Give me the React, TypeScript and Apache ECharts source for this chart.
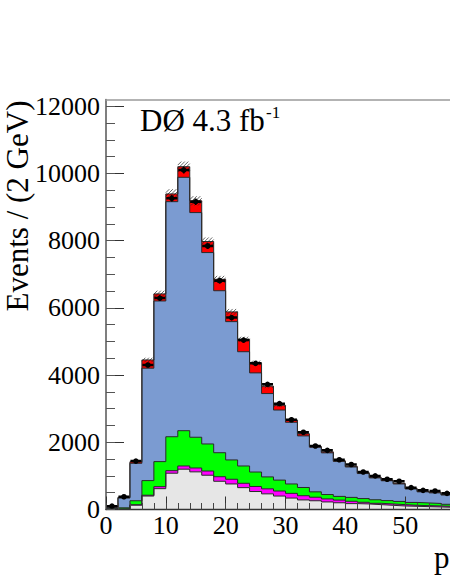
import React, { useEffect, useRef } from "react";
import * as echarts from "echarts";

// Bin lower edges (GeV), 2 GeV bins
const binLow = [0, 2, 4, 6, 8, 10, 12, 14, 16, 18, 20, 22, 24, 26, 28, 30, 32, 34, 36, 38, 40, 42, 44, 46, 48, 50, 52, 54, 56];
const BIN_WIDTH = 2;

// Stacked background components (events per bin)
const grayBg = [10, 15, 130, 400, 620, 1080, 1200, 1120, 1020, 840, 760, 650, 535, 465, 400, 340, 285, 260, 225, 200, 175, 165, 145, 125, 105, 95, 85, 75, 65];
const magentaBg = [0, 0, 10, 25, 60, 75, 95, 115, 125, 135, 140, 130, 150, 150, 150, 140, 125, 105, 90, 80, 70, 50, 40, 40, 40, 30, 30, 30, 30];
const greenBg = [10, 35, 120, 435, 745, 1010, 1050, 915, 805, 715, 575, 515, 430, 355, 325, 280, 245, 160, 130, 110, 115, 110, 105, 100, 95, 85, 80, 75, 60];
const blueSig = [50, 290, 1115, 3345, 4780, 6995, 7540, 6685, 5695, 4820, 4115, 3400, 2950, 2480, 2085, 1835, 1535, 1330, 1240, 1040, 905, 745, 650, 590, 520, 400, 330, 315, 275];
const redBg = [20, 25, 45, 245, 210, 230, 315, 350, 330, 340, 290, 370, 300, 220, 140, 70, 65, 20, 30, 20, 20, 25, 20, 20, 20, 20, 20, 20, 20];

// Data points and their errors
const dataVals = [100, 380, 1440, 4300, 6290, 9260, 10100, 9160, 7840, 6810, 5710, 5040, 4350, 3725, 3150, 2670, 2300, 1890, 1760, 1480, 1340, 1115, 1000, 900, 840, 650, 570, 550, 480];
const dataErr = [10, 19, 38, 66, 79, 96, 101, 96, 89, 83, 76, 71, 66, 61, 56, 52, 48, 43, 42, 38, 37, 33, 32, 30, 29, 25, 24, 23, 22];
const SYST = 0.015;

// Axis ticks
const xMajorTicks = [0, 10, 20, 30, 40, 50];
const yMajorTicks = [0, 2000, 4000, 6000, 8000, 10000, 12000];
const X_MAX = 57.5;
const Y_MAX = 12200;

const FONT = "Liberation Serif";

export default function App() {
  const ref = useRef<HTMLDivElement>(null);
  useEffect(() => {
    if (!ref.current) return;
    const chart = echarts.init(ref.current, undefined, { renderer: "svg" });

    const xMinorTicks: number[] = [];
    for (let v = 0; v <= 56; v += BIN_WIDTH) xMinorTicks.push(v);
    const yMinorTicks: number[] = [];
    for (let v = 0; v <= 12000; v += 500) yMinorTicks.push(v);

    const stepData = (arr: number[]) => {
      const pts = binLow.map((x, i) => [x, arr[i]]);
      pts.push([binLow[binLow.length - 1] + BIN_WIDTH, arr[arr.length - 1]]);
      return pts;
    };

    const comps = [
      { name: "gray", data: grayBg, color: "#e6e6e6" },
      { name: "magenta", data: magentaBg, color: "#ff00ff" },
      { name: "green", data: greenBg, color: "#00ff00" },
      { name: "signal", data: blueSig, color: "#7b9bd1" },
      { name: "red", data: redBg, color: "#ff0000" },
    ];

    // cumulative tops (bottom to top)
    const cum: number[][] = [];
    comps.forEach((c, k) => {
      cum.push(binLow.map((_, i) => (k > 0 ? cum[k - 1][i] : 0) + c.data[i]));
    });
    const totals = cum[cum.length - 1];

    // draw from the top layer down so lower layers cover higher ones
    const lineSeries = comps
      .map((c, k) => ({
        type: "line",
        name: c.name,
        step: "end",
        symbol: "none",
        silent: true,
        data: stepData(cum[k]),
        lineStyle: { color: "#2a2a2a", width: 1 },
        areaStyle: { color: c.color, opacity: 1, origin: "start" },
        z: 2,
      }))
      .reverse();

    const customData = binLow.map((x, i) => [x + BIN_WIDTH / 2, dataVals[i], dataErr[i], totals[i]]);

    const option: any = {
      animation: false,
      backgroundColor: "#ffffff",
      grid: { left: 106, right: 0, top: 99.5, bottom: 72.5, outerBoundsMode: "none", containLabel: false },
      xAxis: [
        {
          type: "value", min: 0, max: X_MAX, position: "bottom", z: 5,
          axisLine: { show: true, lineStyle: { color: "#333", width: 1.3 } },
          axisTick: { show: true, inside: true, length: 13, customValues: xMajorTicks, lineStyle: { color: "#333", width: 1 } },
          axisLabel: { show: true, customValues: xMajorTicks, formatter: (v: number) => String(v), fontFamily: FONT, fontSize: 26, color: "#000", margin: 3 },
          splitLine: { show: false },
        },
        {
          type: "value", min: 0, max: X_MAX, position: "bottom", z: 5,
          axisLine: { show: false },
          axisTick: { show: true, inside: true, length: 6.5, customValues: xMinorTicks, lineStyle: { color: "#444", width: 1 } },
          axisLabel: { show: false },
          splitLine: { show: false },
        },
        {
          type: "value", min: 0, max: X_MAX, position: "top", z: 5,
          axisLine: { show: true, lineStyle: { color: "#9a9a9a", width: 1.5 } },
          axisTick: { show: false },
          axisLabel: { show: false },
          splitLine: { show: false },
        },
      ],
      yAxis: [
        {
          type: "value", min: 0, max: Y_MAX, position: "left", z: 5,
          axisLine: { show: true, lineStyle: { color: "#555", width: 1.5 } },
          axisTick: { show: true, inside: true, length: 18, customValues: yMajorTicks, lineStyle: { color: "#333", width: 1 } },
          axisLabel: { show: true, customValues: yMajorTicks, formatter: (v: number) => String(v), fontFamily: FONT, fontSize: 26, color: "#000", margin: 6 },
          splitLine: { show: false },
        },
        {
          type: "value", min: 0, max: Y_MAX, position: "left", z: 5,
          axisLine: { show: false },
          axisTick: { show: true, inside: true, length: 9, customValues: yMinorTicks, lineStyle: { color: "#555", width: 1 } },
          axisLabel: { show: false },
          splitLine: { show: false },
        },
      ],
      series: [
        ...lineSeries,
        {
          type: "custom",
          name: "data",
          silent: true,
          clip: true,
          z: 3,
          encode: { x: 0, y: 1 },
          data: customData,
          renderItem: (params: any, api: any) => {
            const xc = api.value(0) as number;
            const v = api.value(1) as number;
            const e = api.value(2) as number;
            const tot = api.value(3) as number;
            const pL = api.coord([xc - BIN_WIDTH / 2, v]);
            const pR = api.coord([xc + BIN_WIDTH / 2, v]);
            const pM = api.coord([xc, v]);
            const xa = pL[0];
            const xb = pR[0];
            const yHi = api.coord([xc, tot * (1 + SYST)])[1];
            const yLo = api.coord([xc, tot * (1 - SYST)])[1];
            const children: any[] = [];
            if (yLo - yHi > 1) {
              for (let c = xa + yHi; c <= xb + yLo; c += 3.5) {
                const x1 = Math.max(xa, c - yLo);
                const x2 = Math.min(xb, c - yHi);
                if (x2 > x1) {
                  children.push({ type: "line", shape: { x1, y1: c - x1, x2, y2: c - x2 }, style: { stroke: "#222", lineWidth: 0.7 } });
                }
              }
            }
            const yEu = api.coord([xc, v + e])[1];
            const yEd = api.coord([xc, v - e])[1];
            children.push({ type: "line", shape: { x1: xa + 0.5, y1: pM[1], x2: xb - 0.5, y2: pM[1] }, style: { stroke: "#000", lineWidth: 2.5 } });
            children.push({ type: "line", shape: { x1: pM[0], y1: yEu, x2: pM[0], y2: yEd }, style: { stroke: "#000", lineWidth: 1.5 } });
            children.push({ type: "circle", shape: { cx: pM[0], cy: pM[1], r: 2.8 }, style: { fill: "#000" } });
            return { type: "group", children };
          },
        },
      ],
      graphic: [
        {
          type: "text", x: 17, y: 206, rotation: Math.PI / 2,
          style: { text: "Events / (2 GeV)", fontFamily: FONT, fontSize: 31, fill: "#000", align: "center", verticalAlign: "middle" },
        },
        {
          type: "text", x: 140, y: 120,
          style: { text: "DØ 4.3 fb", fontFamily: FONT, fontSize: 31, fill: "#000", align: "left", verticalAlign: "middle" },
        },
        {
          type: "text", x: 266, y: 112,
          style: { text: "-1", fontFamily: FONT, fontSize: 17, fill: "#000", align: "left", verticalAlign: "middle" },
        },
        {
          type: "text", x: 434, y: 557,
          style: { text: "p", fontFamily: FONT, fontSize: 31, fill: "#000", align: "left", verticalAlign: "middle" },
        },
      ],
    };

    chart.setOption(option);
    return () => chart.dispose();
  }, []);

  return (
    <div
      ref={ref}
      style={{ position: "fixed", left: 0, top: 0, width: 450, height: 582, background: "#fff", overflow: "hidden" }}
    />
  );
}
